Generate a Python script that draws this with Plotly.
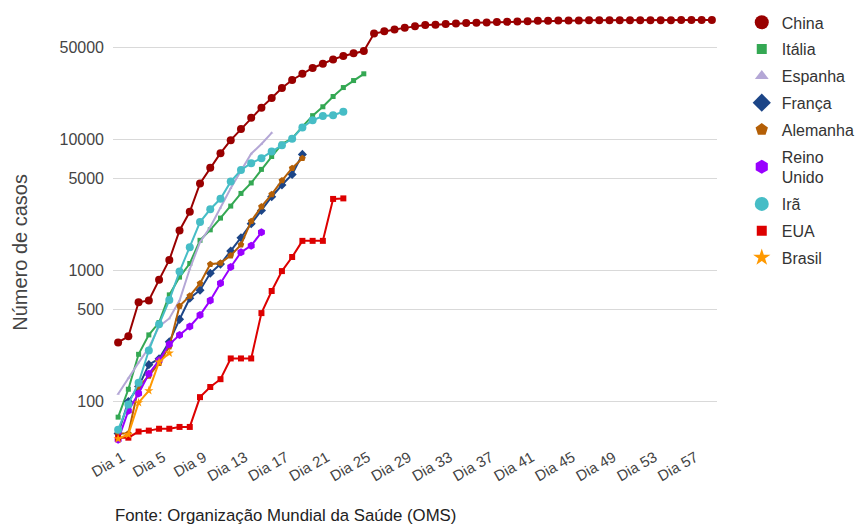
import plotly.graph_objects as go

# ---- data -------------------------------------------------------------
dias = ["Dia %d" % i for i in range(1, 60)]
rotulos_x = dias[::4]
valores_y = [100, 500, 1000, 5000, 10000, 50000]

china = [282, 314, 571, 590, 846, 1200, 2014, 2798, 4593, 6065,
         7818, 9826, 11953, 14557, 17391, 20630, 24554, 28276, 31481, 34886,
         37558, 40554, 43103, 45171, 46997, 63851, 66492, 68500, 70548, 72436,
         74185, 74576, 75465, 76288, 76936, 77150, 77658, 78064, 78497, 78824,
         79251, 79824, 80026, 80151, 80270, 80409, 80552, 80651, 80695, 80735,
         80754, 80778, 80793, 80813, 80824, 80844, 80860, 80881, 80894]
italia = [76, 124, 229, 322, 400, 650, 888, 1128, 1694, 2036,
          2502, 3089, 3858, 4636, 5883, 7375, 9172, 10149, 12462, 15113,
          17660, 21157, 24747, 27980, 31506]
espanha = [114, 151, 198, 257, 374, 430, 589, 1024, 1639, 2140,
           3004, 4231, 5753, 7753, 9191, 11178]
franca = [57, 100, 130, 191, 212, 285, 423, 613, 706, 949,
          1116, 1402, 1774, 2269, 2860, 3640, 4469, 5380, 7652]
alemanha = [57, 57, 129, 157, 196, 262, 534, 639, 795, 1112,
            1139, 1296, 1567, 2369, 3062, 3795, 4838, 6012, 7156]
reino_unido = [51, 85, 115, 163, 206, 273, 321, 373, 456, 590,
               797, 1061, 1372, 1543, 1950]
ira = [61, 95, 139, 245, 388, 593, 978, 1501, 2336, 2922,
       3513, 4747, 5823, 6566, 7161, 8042, 9000, 10075, 12300, 13938,
       14991, 15200, 16169]
eua = [53, 53, 59, 60, 62, 62, 64, 64, 108, 129,
       148, 213, 213, 213, 472, 696, 987, 1264, 1678, 1678,
       1678, 3503, 3536]
brasil = [52, 56, 98, 121, 200, 234]

# ---- figure -----------------------------------------------------------
series = [
    ("China", china, "#990000", "circle", 8, 14),
    ("Itália", italia, "#34a853", "square", 5, 10),
    ("Espanha", espanha, "#b4a7d6", "triangle-up", 3, 12),
    ("França", franca, "#1c4587", "diamond", 7, 14),
    ("Alemanha", alemanha, "#b45f06", "pentagon", 7, 13),
    ("Reino<br>Unido", reino_unido, "#9900ff", "hexagon", 8, 14),
    ("Irã", ira, "#46bdc6", "circle", 8, 14),
    ("EUA", eua, "#dd0000", "square", 6, 10),
    ("Brasil", brasil, "#ff9900", "star", 7, 13),
]

fig = go.Figure()
for nome, vals, cor, simb, tam, _ in series:
    fig.add_trace(go.Scatter(
        x=dias[:len(vals)], y=vals, mode="lines+markers",
        line=dict(color=cor, width=2),
        marker=dict(color=cor, symbol=simb, size=tam),
        name=nome, legendgroup=nome, showlegend=False, cliponaxis=False,
    ))
for nome, vals, cor, simb, tam, tam_leg in series:
    fig.add_trace(go.Scatter(
        x=[None], y=[None], mode="markers",
        marker=dict(color=cor, symbol=simb, size=tam_leg),
        name=nome, legendgroup=nome, showlegend=True,
    ))

fonte = "Arial, Liberation Sans, sans-serif"
# the page body adds an 8px offset, so the figure is 8px smaller
fig.update_layout(
    width=857, height=519,
    margin=dict(l=105, r=148, t=0, b=86, autoexpand=False),
    paper_bgcolor="white", plot_bgcolor="white",
    font=dict(family=fonte, size=16, color="#444444"),
    showlegend=True,
    legend=dict(x=1.041, y=1.006, xanchor="left", yanchor="top",
                font=dict(size=16, color="#333333"),
                tracegroupgap=3, itemsizing="trace",
                bgcolor="rgba(0,0,0,0)"),
    xaxis=dict(type="category", categoryorder="array", categoryarray=dias,
               range=[-0.5, 58.5], tickvals=rotulos_x, ticktext=rotulos_x,
               tickangle=-30, showgrid=False, zeroline=False, showline=False,
               ticks="", tickfont=dict(size=15, color="#444444"),
               ticklabelstandoff=4, ticklabelshift=4),
    yaxis=dict(type="log", range=[1.69897, 5.0], tickvals=valores_y,
               ticktext=[str(v) for v in valores_y],
               showgrid=True, gridcolor="#d9d9d9", gridwidth=1,
               zeroline=False, showline=False, ticks="",
               tickfont=dict(size=16, color="#444444"),
               ticklabelstandoff=8),
    annotations=[
        dict(text="Número de casos", x=-0.154, y=0.437, xref="paper", yref="paper",
             textangle=-90, showarrow=False, xanchor="center", yanchor="middle",
             font=dict(size=20, color="#444444")),
        dict(text="Fonte: Organização Mundial da Saúde (OMS)", x=0.0, y=-0.172,
             xref="paper", yref="paper", showarrow=False, xanchor="left",
             yanchor="middle", font=dict(size=16.8, color="#222222")),
    ],
)

fig.write_html("out.html")
